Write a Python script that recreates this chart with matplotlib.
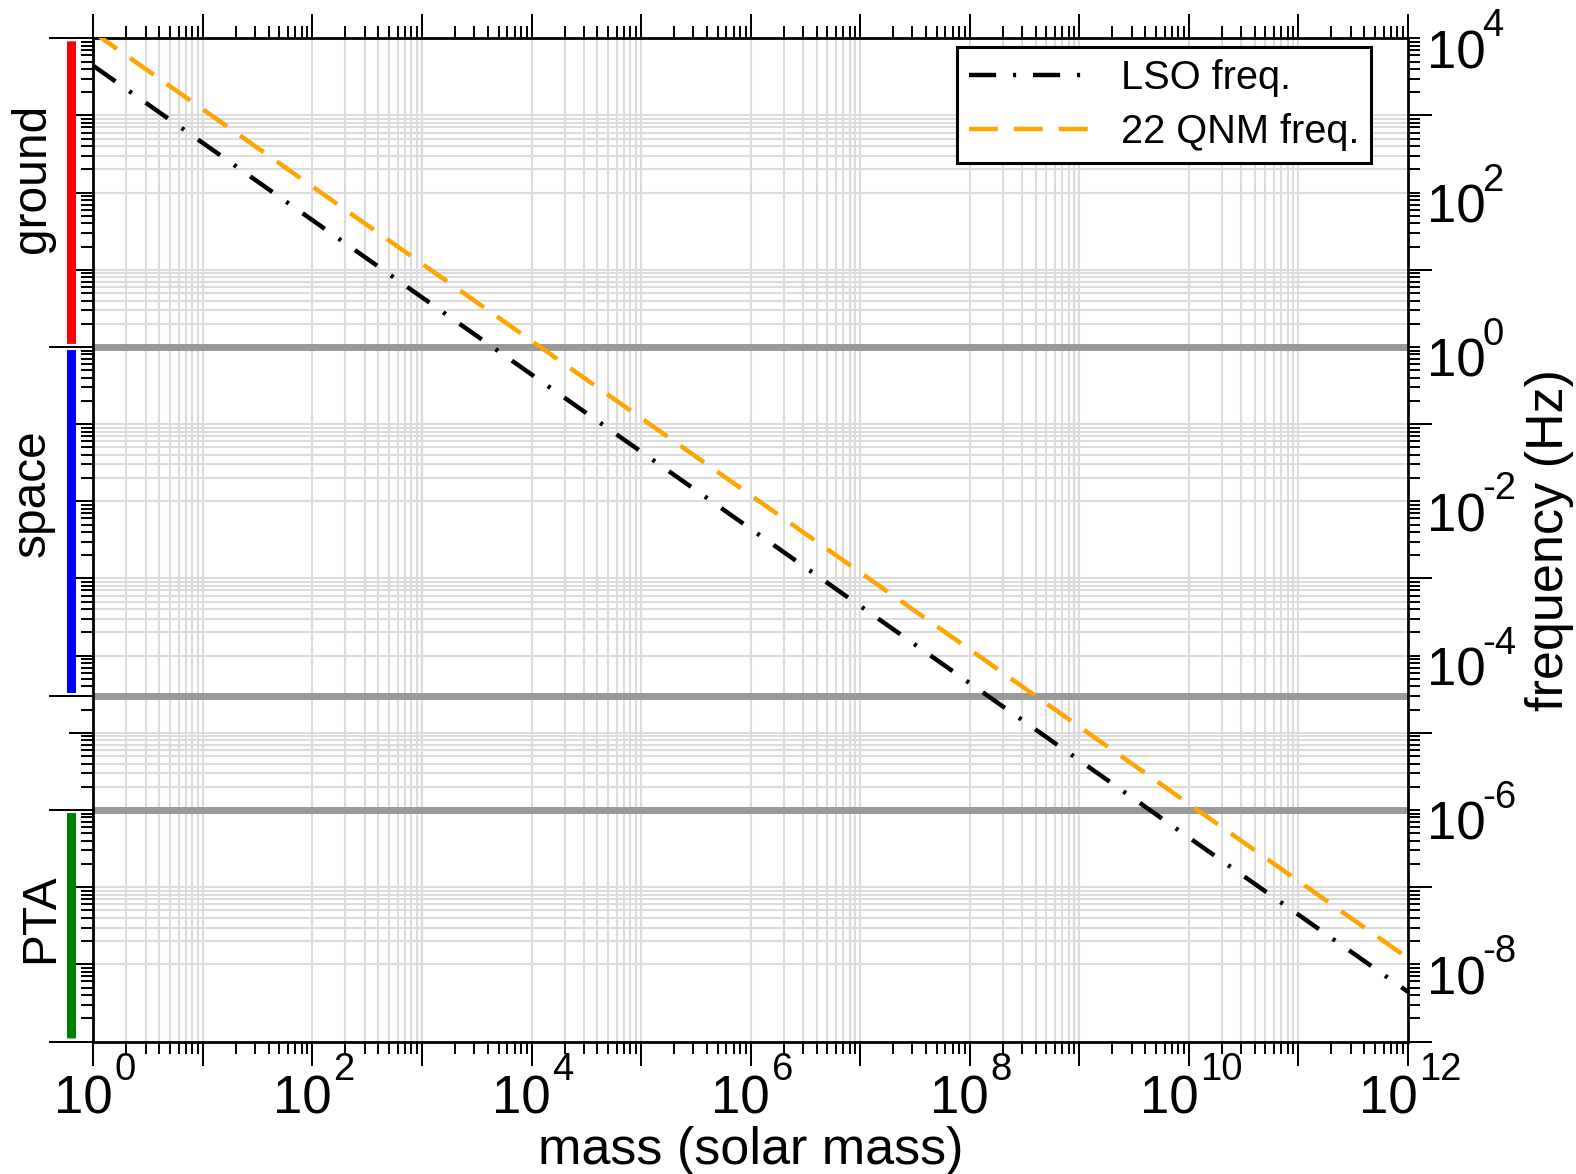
import numpy as np
import matplotlib
matplotlib.use("Agg")
import matplotlib.pyplot as plt
import matplotlib.transforms as mtransforms
from matplotlib.patches import FancyArrowPatch
from matplotlib.ticker import LogLocator, FixedLocator, NullFormatter, NullLocator

plt.rcParams['font.family'] = ['Liberation Sans', 'DejaVu Sans']

# -------------------------------
# Data
# -------------------------------
mass = [1e0, 1e1, 1e2, 1e3, 1e4, 1e5, 1e6, 1e7, 1e8, 1e9, 1e10, 1e11, 1e12]
f_lso = [4.4e3, 4.4e2, 4.4e1, 4.4e0, 4.4e-1, 4.4e-2, 4.4e-3, 4.4e-4,
         4.4e-5, 4.4e-6, 4.4e-7, 4.4e-8, 4.4e-9]
f_qnm = [1.2e4, 1.2e3, 1.2e2, 1.2e1, 1.2e0, 1.2e-1, 1.2e-2, 1.2e-3,
         1.2e-4, 1.2e-5, 1.2e-6, 1.2e-7, 1.2e-8]

band_names = ["ground", "space", "PTA"]
band_lo = [1e0, 3e-5, 1e-9]
band_hi = [1e4, 1e0, 1e-6]
band_colors = ["#ff0000", "#0000ff", "#008000"]
band_edges = [1e-9, 1e-6, 3e-5, 1e0, 1e4]
band_lines = [1e0, 3e-5, 1e-6]

x_label_exps = [0, 2, 4, 6, 8, 10, 12]
y_label_exps = [4, 2, 0, -2, -4, -6, -8]

xmin, xmax = 1e0, 1e12
ymin, ymax = 1e-9, 1e4

# -------------------------------
# Figure / axes
# -------------------------------
W, H = 1576, 1174
fig = plt.figure(figsize=(W / 100, H / 100), dpi=100)
ax_l, ax_r, ax_t, ax_b = 93.3, 1408, 38.3, 1041.5
ax = fig.add_axes([ax_l / W, 1 - ax_b / H, (ax_r - ax_l) / W, (ax_b - ax_t) / H])
ax.set_xscale("log")
ax.set_yscale("log")
ax.set_xlim(xmin, xmax)
ax.set_ylim(ymin, ymax)

for sp in ax.spines.values():
    sp.set_linewidth(2.0)

# grid (xmgrace style: minor lines only in the labelled decades)
grid_c = "#dcdcdc"
for e in range(0, 12, 2):
    for k in range(1, 11):
        ax.axvline(k * 10.0 ** e, color=grid_c, lw=1.5, zorder=0)
for e in range(-8, 3, 2):
    for k in range(1, 11):
        ax.axhline(k * 10.0 ** e, color=grid_c, lw=1.5, zorder=0)

# band separators
for v in band_lines:
    ax.axhline(v, color="#999999", lw=5, zorder=1)

# curves
ax.plot(mass, f_lso, color="black", lw=3.2, dashes=(6.1, 3.8, 0.7, 3.8),
        label="LSO freq.", zorder=3)
ax.plot(mass, f_qnm, color="#ffa500", lw=3.2, dashes=(6.5, 3.6),
        label="22 QNM freq.", zorder=3)

# coloured bars left of the axis
trans = mtransforms.blended_transform_factory(ax.transAxes, ax.transData)
xb = (71.5 - ax_l) / (ax_r - ax_l)
for lo, hi, c in zip(band_lo, band_hi, band_colors):
    bar = FancyArrowPatch((xb, hi), (xb, lo), arrowstyle="-", shrinkA=2.2, shrinkB=2.2,
                          transform=trans, color=c, lw=6.5, capstyle="butt",
                          clip_on=False, zorder=2)
    ax.add_patch(bar)

# x ticks (bottom + top)
ax.xaxis.set_major_locator(LogLocator(base=10, numticks=100))
ax.xaxis.set_minor_locator(LogLocator(base=10, subs=np.arange(2, 10), numticks=100))
ax.xaxis.set_major_formatter(NullFormatter())
ax.xaxis.set_minor_formatter(NullFormatter())
ax.tick_params(axis="x", which="both", direction="out", top=True, bottom=True, width=1.44)
ax.tick_params(axis="x", which="major", length=17.3)
ax.tick_params(axis="x", which="minor", length=8.6)

# left y ticks
ax.yaxis.set_major_locator(LogLocator(base=10, numticks=100))
ax.yaxis.set_minor_locator(LogLocator(base=10, subs=np.arange(2, 10), numticks=100))
ax.yaxis.set_major_formatter(NullFormatter())
ax.yaxis.set_minor_formatter(NullFormatter())
ax.tick_params(axis="y", which="both", direction="out", left=True, right=False,
               labelleft=False, width=1.44)
ax.tick_params(axis="y", which="major", length=17.3)
ax.tick_params(axis="y", which="minor", length=8.6)

# long ticks at band edges (left)
axb = ax.twinx()
axb.set_yscale("log")
axb.set_ylim(ymin, ymax)
axb.yaxis.tick_left()
axb.yaxis.set_major_locator(FixedLocator(band_edges))
axb.yaxis.set_minor_locator(NullLocator())
axb.yaxis.set_major_formatter(NullFormatter())
axb.tick_params(axis="y", which="major", direction="out", length=31.7, width=1.44)

# right ticks: odd decades long, the rest short
axr = ax.twinx()
axr.set_yscale("log")
axr.set_ylim(ymin, ymax)
axr.yaxis.set_major_locator(FixedLocator([10.0 ** e for e in range(-9, 4, 2)]))
axr.yaxis.set_minor_locator(LogLocator(base=10, subs=np.arange(1, 10), numticks=100))
axr.yaxis.set_major_formatter(NullFormatter())
axr.yaxis.set_minor_formatter(NullFormatter())
axr.tick_params(axis="y", which="both", direction="out", width=1.44)
axr.tick_params(axis="y", which="major", length=17.3)
axr.tick_params(axis="y", which="minor", length=8.6)

for a in (axb, axr):
    for sp in a.spines.values():
        sp.set_visible(False)

# tick labels written as "10" + raised exponent (xmgrace look)
base_fs, exp_fs = 38, 27.5
xtr = mtransforms.blended_transform_factory(ax.transData, ax.transAxes)
for e in x_label_exps:
    n = len(str(e))
    dx = 28.5 - 9.5 * n
    tb = mtransforms.offset_copy(xtr, fig=fig, x=dx, y=-71.5, units="dots")
    te = mtransforms.offset_copy(xtr, fig=fig, x=dx + 2, y=-38.5, units="dots")
    ax.text(10.0 ** e, 0, "10", transform=tb, ha="right", va="baseline",
            fontsize=base_fs, clip_on=False)
    ax.text(10.0 ** e, 0, str(e), transform=te, ha="left", va="baseline",
            fontsize=exp_fs, clip_on=False)

ytr = mtransforms.blended_transform_factory(ax.transAxes, ax.transData)
for e in y_label_exps:
    tb = mtransforms.offset_copy(ytr, fig=fig, x=19, y=-30, units="dots")
    te = mtransforms.offset_copy(ytr, fig=fig, x=74, y=2, units="dots")
    ax.text(1, 10.0 ** e, "10", transform=tb, ha="left", va="baseline",
            fontsize=base_fs, clip_on=False)
    ax.text(1, 10.0 ** e, str(e), transform=te, ha="left", va="baseline",
            fontsize=exp_fs, clip_on=False)

# axis labels
ax.set_xlabel("mass (solar mass)", fontsize=37.5)
ax.xaxis.set_label_coords(0.5, -0.084)
ax.yaxis.set_label_position("right")
ax.set_ylabel("frequency (Hz)", fontsize=37.5)
ax.yaxis.set_label_coords((1525 - ax_l) / (ax_r - ax_l), 0.5)

# band names on the far left
name_x = [45, 45, 53]
name_y = [178, 493, 918]
for name, px, py in zip(band_names, name_x, name_y):
    fig.text(px / W, 1 - py / H, name, rotation=90, rotation_mode="anchor",
             ha="center", va="baseline", fontsize=34.5)

# legend
leg = ax.legend(loc="upper right",
                bbox_to_anchor=((1371 - ax_l) / (ax_r - ax_l), (ax_b - 47) / (ax_b - ax_t)),
                fontsize=28.6, handlelength=3.15, handletextpad=0.68, borderpad=0.3,
                labelspacing=0.4, frameon=True, fancybox=False, framealpha=1,
                edgecolor="black", borderaxespad=0)
leg.get_frame().set_linewidth(2.2)
leg.set_zorder(10)

fig.savefig("out.png", dpi=100)
